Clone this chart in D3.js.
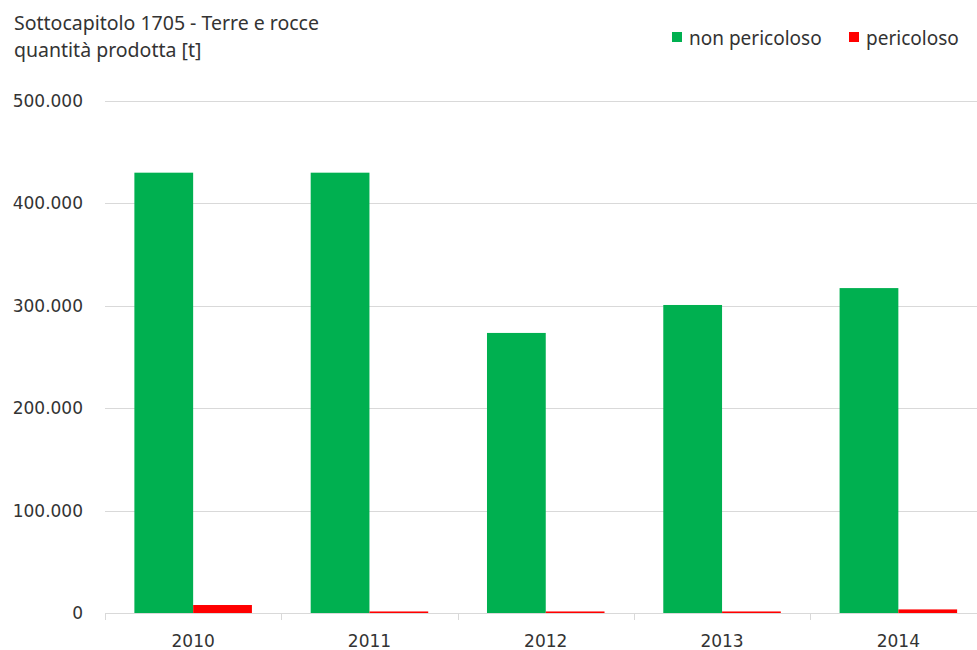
<!DOCTYPE html>
<html>
<head>
<meta charset="utf-8">
<script src="https://cdn.jsdelivr.net/npm/d3@7"></script>
<style>
  body { margin: 0; background: #ffffff; }
</style>
</head>
<body>
<div class="chart"></div>
<script>
var w = 977;
var h = 650;

var years = ["2010", "2011", "2012", "2013", "2014"];
var nonPericoloso = [430000, 430000, 273500, 300800, 317300];
var pericoloso = [7800, 1500, 1500, 1500, 3500];
var yTicks = [0, 100000, 200000, 300000, 400000, 500000];
var seriesNames = ["non pericoloso", "pericoloso"];
var seriesColors = ["#00b050", "#ff0000"];

var textColor = "#333333";
var gridColor = "#d9d9d9";

var plotLeft = 105;
var bandW = 176.3;
var plotTop = 101;
var plotBottom = 613;

var locale = d3.formatLocale({ decimal: ",", thousands: ".", grouping: [3], currency: ["", " €"] });
var fmt = locale.format(",d");

var svg = d3.select(".chart")
    .append("svg")
    .attr("width", w)
    .attr("height", h)
    .style("background", "#ffffff");

var x = d3.scaleBand()
    .domain(years)
    .range([plotLeft, plotLeft + bandW * years.length])
    .paddingInner(0)
    .paddingOuter(0);

var inner = d3.scaleBand()
    .domain(seriesNames)
    .range([x.bandwidth() / 6, x.bandwidth() * 5 / 6]);

var y = d3.scaleLinear()
    .domain([0, 500000])
    .range([plotBottom, plotTop]);

// title
svg.append("text")
    .attr("x", 14)
    .attr("y", 30)
    .text("Sottocapitolo 1705 - Terre e rocce")
    .attr("font-family", "Noto Sans")
    .attr("font-size", "19.5")
    .attr("fill", textColor);

svg.append("text")
    .attr("x", 14)
    .attr("y", 57)
    .text("quantità prodotta [t]")
    .attr("font-family", "Noto Sans")
    .attr("font-size", "19.5")
    .attr("fill", textColor);

// legend
var legendX = [672, 849];
seriesNames.forEach(function(name, i) {
    svg.append("rect")
        .attr("x", legendX[i])
        .attr("y", 32)
        .attr("width", 10)
        .attr("height", 10)
        .attr("fill", seriesColors[i]);
    svg.append("text")
        .attr("x", legendX[i] + 17)
        .attr("y", 45)
        .text(name)
        .attr("font-family", "Noto Sans")
        .attr("font-size", "19")
        .attr("fill", textColor);
});

// gridlines
svg.append("g")
    .selectAll("line")
    .data(yTicks.slice(1))
    .join("line")
    .attr("x1", plotLeft)
    .attr("x2", w)
    .attr("y1", function(d) { return Math.round(y(d)) + 0.5; })
    .attr("y2", function(d) { return Math.round(y(d)) + 0.5; })
    .attr("stroke", gridColor)
    .attr("stroke-width", 1);

// y labels
svg.append("g")
    .selectAll("text")
    .data(yTicks)
    .join("text")
    .attr("x", 83)
    .attr("y", function(d) { return y(d) + 6; })
    .attr("text-anchor", "end")
    .text(function(d) { return fmt(d); })
    .attr("font-family", "DejaVu Sans")
    .attr("font-size", "17")
    .attr("fill", textColor);

// bars
var groups = svg.append("g")
    .selectAll("g")
    .data(years)
    .join("g")
    .attr("transform", function(d) { return "translate(" + x(d) + ",0)"; });

groups.append("rect")
    .attr("x", inner("non pericoloso"))
    .attr("width", inner.bandwidth())
    .attr("y", function(d, i) { return y(nonPericoloso[i]); })
    .attr("height", function(d, i) { return plotBottom - y(nonPericoloso[i]); })
    .attr("fill", seriesColors[0]);

groups.append("rect")
    .attr("x", inner("pericoloso"))
    .attr("width", inner.bandwidth())
    .attr("y", function(d, i) { return y(pericoloso[i]); })
    .attr("height", function(d, i) { return plotBottom - y(pericoloso[i]); })
    .attr("fill", seriesColors[1]);

// x axis
svg.append("line")
    .attr("x1", plotLeft)
    .attr("x2", w)
    .attr("y1", plotBottom + 0.5)
    .attr("y2", plotBottom + 0.5)
    .attr("stroke", gridColor);

svg.append("g")
    .selectAll("line")
    .data(d3.range(years.length + 1))
    .join("line")
    .attr("x1", function(i) { return Math.round(plotLeft + i * x.bandwidth()) + 0.5; })
    .attr("x2", function(i) { return Math.round(plotLeft + i * x.bandwidth()) + 0.5; })
    .attr("y1", plotBottom)
    .attr("y2", plotBottom + 7)
    .attr("stroke", gridColor);

svg.append("g")
    .selectAll("text")
    .data(years)
    .join("text")
    .attr("x", function(d) { return x(d) + x.bandwidth() / 2; })
    .attr("y", 647)
    .attr("text-anchor", "middle")
    .text(function(d) { return d; })
    .attr("font-family", "DejaVu Sans")
    .attr("font-size", "17")
    .attr("fill", textColor);
</script>
</body>
</html>
